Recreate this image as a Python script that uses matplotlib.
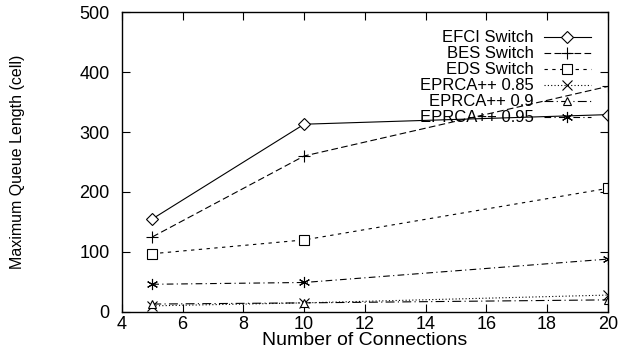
import matplotlib.pyplot as plt

plt.rcParams["font.family"] = ["Liberation Sans", "DejaVu Sans"]

connections = [5, 10, 20]
efci = [155, 313, 329]
bes = [125, 260, 376]
eds = [97, 120, 206]
eprca_085 = [10, 15, 28]
eprca_09 = [13, 15, 20]
eprca_095 = [46, 49, 88]

fig = plt.figure(figsize=(6.19, 3.56), dpi=100)
ax = fig.add_axes([0.197, 0.124, 0.785, 0.842])

lw = 0.8
ax.plot(connections, efci, color="black", lw=lw, ls="-", marker="D", ms=6,
        mfc="white", mew=0.8, label="EFCI Switch")
ax.plot(connections, bes, color="black", lw=lw, ls=(0, (6, 3)), marker="+", ms=8,
        mew=0.8, label="BES Switch")
ax.plot(connections, eds, color="black", lw=lw, ls=(0, (3, 4)), marker="s", ms=7,
        mfc="white", mew=0.8, label="EDS Switch")
ax.plot(connections, eprca_085, color="black", lw=lw, ls=(0, (1, 2)), marker="x", ms=7,
        mew=0.8, label="EPRCA++ 0.85")
ax.plot(connections, eprca_09, color="black", lw=lw, ls=(0, (8, 3, 1, 3)), marker="^", ms=6,
        mfc="white", mew=0.8, label="EPRCA++ 0.9")
ax.plot(connections, eprca_095, color="black", lw=lw, ls=(0, (6, 3, 1, 3)), marker=(6, 2, 0), ms=8,
        mew=0.8, label="EPRCA++ 0.95")

ax.set_xlim(4, 20)
ax.set_ylim(0, 500)
ax.set_xticks(range(4, 21, 2))
ax.set_yticks(range(0, 501, 100))
ax.tick_params(direction="in", top=True, right=True, length=6, labelsize=13)
ax.tick_params(axis="y", pad=9)
ax.tick_params(axis="x", pad=3)
for s in ax.spines.values():
    s.set_linewidth(1.0)

ax.set_xlabel("Number of Connections", fontsize=14, labelpad=-1)
ax.set_ylabel("Maximum Queue Length (cell)", fontsize=11.5)
ax.yaxis.set_label_coords(-0.20, 0.5)

ax.legend(loc="upper right", bbox_to_anchor=(0.985, 0.972), frameon=False, markerfirst=False,
          fontsize=12, handlelength=2.8, handletextpad=0.6, labelspacing=0.06,
          borderaxespad=0.2)

fig.savefig("out.png", dpi=100)
